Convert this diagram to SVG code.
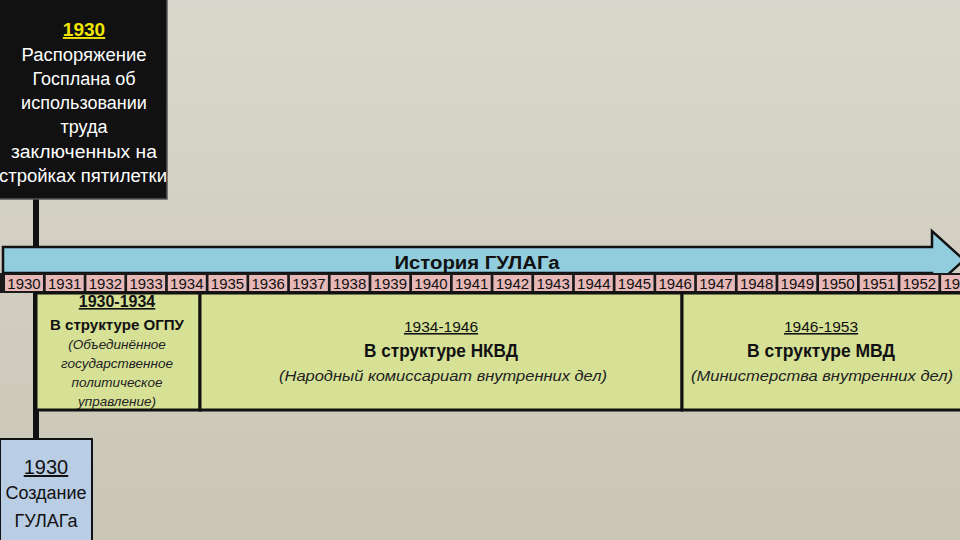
<svg xmlns="http://www.w3.org/2000/svg" width="960" height="540" viewBox="0 0 960 540">
<defs>
<linearGradient id="bg" x1="0" y1="0" x2="0" y2="1">
<stop offset="0" stop-color="#dad7cc"/>
<stop offset="1" stop-color="#c9c6b7"/>
</linearGradient>
<style>
text{font-family:"Liberation Sans","Noto Sans",sans-serif;text-anchor:middle;fill:#111}
.w{fill:#fff;font-size:18px}
.yr{font-size:15px;fill:#111}
.cell{fill:#e6b8b7;stroke:none}
.per{fill:#d6e196;stroke:#111;stroke-width:3}
.it{font-style:italic;fill:#222}
.b{font-weight:bold}
.u{text-decoration:underline}
</style>
</defs>
<rect width="960" height="540" fill="url(#bg)"/>

<g id="connectors">
<rect x="33" y="198" width="6" height="242" fill="#111"/>
</g>

<g id="gosplan">
<rect x="-1" y="-1" width="168" height="200" fill="#111" stroke="#555" stroke-width="1.5"/>
<text x="84" y="36" class="b u" font-size="19" style="fill:#f2e600">1930</text>
<text x="84" y="61" class="w" textLength="125" lengthAdjust="spacingAndGlyphs">Распоряжение</text>
<text x="84" y="85" class="w">Госплана об</text>
<text x="84" y="109" class="w">использовании</text>
<text x="84" y="133" class="w">труда</text>
<text x="84" y="158" class="w" textLength="146" lengthAdjust="spacingAndGlyphs">заключенных на</text>
<text x="83" y="182" class="w" textLength="168" lengthAdjust="spacingAndGlyphs">стройках пятилетки</text>
</g>

<g id="arrow">
<path d="M3,247 L932,247 L932,231 L964,260 L932,289 L932,273 L3,273 Z" fill="#92cddd" stroke="#111" stroke-width="2.5"/>
<text x="477" y="269" class="b" font-size="18" fill="#1a1a2e" textLength="165" lengthAdjust="spacingAndGlyphs">История ГУЛАГа</text>
</g>

<g id="years">
<rect x="0" y="273" width="960" height="20" fill="#1a1a1a"/>
<rect class="cell" x="5" y="275" width="38" height="16"/><text class="yr" x="24" y="289">1930</text>
<rect class="cell" x="45.7" y="275" width="38" height="16"/><text class="yr" x="64.7" y="289">1931</text>
<rect class="cell" x="86.4" y="275" width="38" height="16"/><text class="yr" x="105.4" y="289">1932</text>
<rect class="cell" x="127.1" y="275" width="38" height="16"/><text class="yr" x="146.1" y="289">1933</text>
<rect class="cell" x="167.8" y="275" width="38" height="16"/><text class="yr" x="186.8" y="289">1934</text>
<rect class="cell" x="208.5" y="275" width="38" height="16"/><text class="yr" x="227.5" y="289">1935</text>
<rect class="cell" x="249.2" y="275" width="38" height="16"/><text class="yr" x="268.2" y="289">1936</text>
<rect class="cell" x="289.9" y="275" width="38" height="16"/><text class="yr" x="308.9" y="289">1937</text>
<rect class="cell" x="330.6" y="275" width="38" height="16"/><text class="yr" x="349.6" y="289">1938</text>
<rect class="cell" x="371.3" y="275" width="38" height="16"/><text class="yr" x="390.3" y="289">1939</text>
<rect class="cell" x="412" y="275" width="38" height="16"/><text class="yr" x="431" y="289">1940</text>
<rect class="cell" x="452.7" y="275" width="38" height="16"/><text class="yr" x="471.7" y="289">1941</text>
<rect class="cell" x="493.4" y="275" width="38" height="16"/><text class="yr" x="512.4" y="289">1942</text>
<rect class="cell" x="534.1" y="275" width="38" height="16"/><text class="yr" x="553.1" y="289">1943</text>
<rect class="cell" x="574.8" y="275" width="38" height="16"/><text class="yr" x="593.8" y="289">1944</text>
<rect class="cell" x="615.5" y="275" width="38" height="16"/><text class="yr" x="634.5" y="289">1945</text>
<rect class="cell" x="656.2" y="275" width="38" height="16"/><text class="yr" x="675.2" y="289">1946</text>
<rect class="cell" x="696.9" y="275" width="38" height="16"/><text class="yr" x="715.9" y="289">1947</text>
<rect class="cell" x="737.6" y="275" width="38" height="16"/><text class="yr" x="756.6" y="289">1948</text>
<rect class="cell" x="778.3" y="275" width="38" height="16"/><text class="yr" x="797.3" y="289">1949</text>
<rect class="cell" x="819" y="275" width="38" height="16"/><text class="yr" x="838" y="289">1950</text>
<rect class="cell" x="859.7" y="275" width="38" height="16"/><text class="yr" x="878.7" y="289">1951</text>
<rect class="cell" x="900.4" y="275" width="38" height="16"/><text class="yr" x="919.4" y="289">1952</text>
<rect class="cell" x="941.1" y="275" width="38" height="16"/><text class="yr" x="960.1" y="289">1953</text>
</g>

<g id="ogpu">
<rect class="per" x="36" y="293" width="164" height="117"/>
<text x="117" y="307" class="b u" font-size="16">1930-1934</text>
<text x="117" y="330" class="b" font-size="14" textLength="134" lengthAdjust="spacingAndGlyphs">В структуре ОГПУ</text>
<text x="117" y="349" class="it" font-size="13.5">(Объединённое</text>
<text x="117" y="368" class="it" font-size="13.5">государственное</text>
<text x="117" y="387" class="it" font-size="13.5">политическое</text>
<text x="117" y="406" class="it" font-size="13.5">управление)</text>
</g>

<g id="nkvd">
<rect class="per" x="200" y="293" width="482" height="117"/>
<text x="441" y="332" class="u" font-size="15.5">1934-1946</text>
<text x="441" y="357" class="b" font-size="18" textLength="154" lengthAdjust="spacingAndGlyphs">В структуре НКВД</text>
<text x="443" y="381" class="it" font-size="15" textLength="328" lengthAdjust="spacingAndGlyphs">(Народный комиссариат внутренних дел)</text>
</g>

<g id="mvd">
<rect class="per" x="682" y="293" width="290" height="117"/>
<text x="821" y="332" class="u" font-size="15.5">1946-1953</text>
<text x="821" y="357" class="b" font-size="18" textLength="148" lengthAdjust="spacingAndGlyphs">В структуре МВД</text>
<text x="822" y="381" class="it" font-size="15" textLength="262" lengthAdjust="spacingAndGlyphs">(Министерства внутренних дел)</text>
</g>

<g id="gulag">
<rect x="0" y="439" width="92" height="103" fill="#b9cde5" stroke="#111" stroke-width="2"/>
<text x="46" y="474" class="u" font-size="20">1930</text>
<text x="46" y="499" font-size="18">Создание</text>
<text x="46" y="527" font-size="18">ГУЛАГа</text>
</g>
</svg>
